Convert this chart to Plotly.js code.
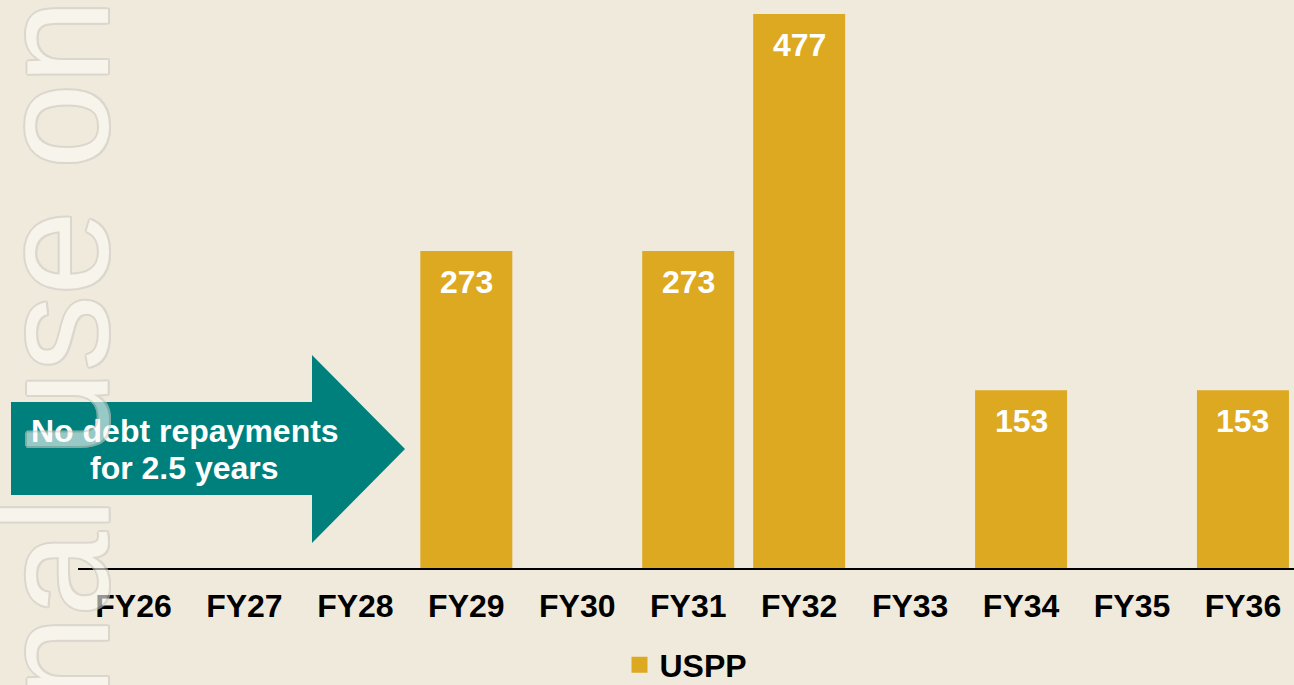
<!DOCTYPE html>
<html>
<head>
<meta charset="utf-8">
<script src="https://cdn.plot.ly/plotly-3.0.1.min.js"></script>
<style>
  html, body { margin: 0; padding: 0; background: #F0EADC; }
  #chart { width: 1294px; height: 685px; }
</style>
</head>
<body>
<div id="chart"></div>
<script>
// ---- data ----
const categories = ['FY26','FY27','FY28','FY29','FY30','FY31','FY32','FY33','FY34','FY35','FY36'];
const usppValues = [null, null, null, 273, null, 273, 477, null, 153, null, 153];
const seriesName = 'USPP';
const arrowLines = ['No debt repayments', 'for 2.5 years'];
const watermarkText = 'Personal use only';

// ---- styling ----
const FONT = 'Liberation Sans, Arial, Helvetica, sans-serif';
const BG = '#F0EADC';
const GOLD = '#DDA921';
const TEAL = '#00807C';

// plot area geometry (pixels) used only for decorative shapes
const W = 1294, H = 685, L = 78, B = 117;
const plotW = W - L, plotH = H - B;
const px = x => (x - L) / plotW;
const py = y => (plotH - y) / plotH;

const bar = {
  type: 'bar',
  x: categories,
  y: usppValues,
  name: seriesName,
  marker: { color: GOLD },
  showlegend: false,
  hoverinfo: 'skip'
};
const legendProxy = {
  type: 'scatter',
  mode: 'markers',
  x: [null], y: [null],
  name: seriesName,
  marker: { symbol: 'square', color: GOLD, size: 16 },
  showlegend: true
};

const annotations = [];
categories.forEach((c, i) => {
  const v = usppValues[i];
  if (v == null) return;
  annotations.push({
    x: c, y: v, xref: 'x', yref: 'y',
    text: String(v), showarrow: false,
    yanchor: 'middle', yshift: -31,
    font: { family: FONT, size: 32, color: '#ffffff', weight: 'bold' }
  });
});

// arrow text (one annotation per line)
const arrowLineY = [431, 468];
arrowLines.forEach((t, k) => {
  annotations.push({
    xref: 'paper', yref: 'paper',
    x: px(184.5), y: py(arrowLineY[k]),
    xanchor: 'center', yanchor: 'middle',
    text: t, showarrow: false,
    font: { family: FONT, size: 32, color: '#ffffff', weight: 'bold' }
  });
});

// watermark
const oc = '#cfccc5';
annotations.push({
  xref: 'paper', yref: 'paper',
  x: px(55), y: py(494),
  xanchor: 'center', yanchor: 'middle',
  text: watermarkText, textangle: -90,
  showarrow: false, opacity: 0.6,
  font: {
    family: FONT, size: 152, color: '#fcfbf8',
    shadow: `2px 0 0 ${oc}, -2px 0 0 ${oc}, 0 2px 0 ${oc}, 0 -2px 0 ${oc}, 1.5px 1.5px 0 ${oc}, -1.5px -1.5px 0 ${oc}, 1.5px -1.5px 0 ${oc}, -1.5px 1.5px 0 ${oc}`
  }
});

const arrowPts = [[11,402],[312,402],[312,355],[405,449],[312,543],[312,495],[11,495]];
const arrowPath = 'M' + arrowPts.map(p => px(p[0]) + ',' + py(p[1])).join(' L') + ' Z';

const layout = {
  width: W, height: H,
  margin: { l: L, r: 0, t: 0, b: B, pad: 0, autoexpand: false },
  paper_bgcolor: BG,
  plot_bgcolor: BG,
  bargap: 0.171,
  font: { family: FONT, color: '#000000' },
  xaxis: {
    type: 'category',
    range: [-0.5, 10.46],
    showline: true, linecolor: '#000000', linewidth: 1.5,
    showgrid: false, zeroline: false, automargin: false,
    ticks: '', ticklabelstandoff: 9,
    tickfont: { family: FONT, size: 32, color: '#000000', weight: 'bold' },
    fixedrange: true
  },
  yaxis: {
    visible: false, range: [0, 489],
    showgrid: false, zeroline: false, fixedrange: true
  },
  showlegend: true,
  legend: {
    orientation: 'h',
    x: 0.5, xanchor: 'center',
    yref: 'container',
    y: 1 - 665 / H, yanchor: 'middle',
    bgcolor: 'rgba(0,0,0,0)',
    font: { family: FONT, size: 32, color: '#000000', weight: 'bold' },
    itemwidth: 30
  },
  shapes: [{
    type: 'path', xref: 'paper', yref: 'paper',
    path: arrowPath,
    fillcolor: TEAL, line: { width: 0 }, layer: 'above'
  }],
  annotations: annotations
};

Plotly.newPlot('chart', [bar, legendProxy], layout, { staticPlot: true, displayModeBar: false });
</script>
</body>
</html>
